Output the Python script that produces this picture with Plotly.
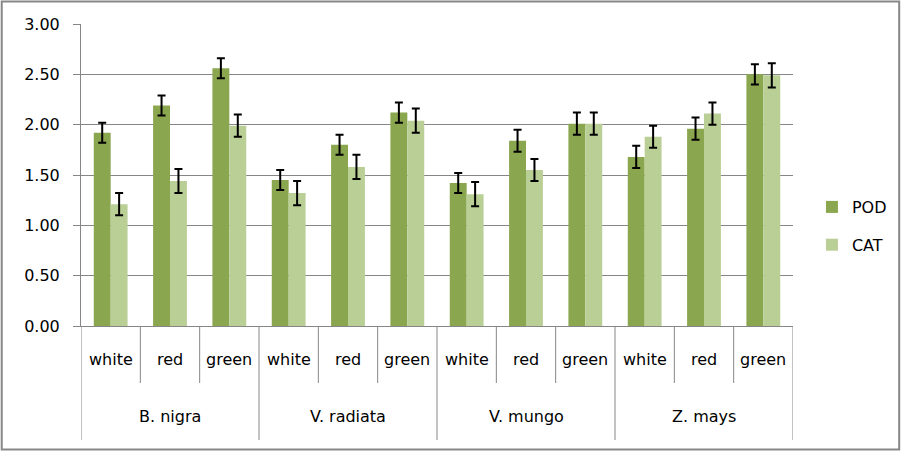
import plotly.graph_objects as go

species = ["B. nigra", "V. radiata", "V. mungo", "Z. mays"]
colors_lbl = ["white", "red", "green"]
pod = [1.92, 2.19, 2.56, 1.45, 1.80, 2.12, 1.42, 1.84, 2.01, 1.68, 1.96, 2.50]
pod_err = [0.10, 0.10, 0.10, 0.10, 0.10, 0.10, 0.10, 0.11, 0.11, 0.11, 0.11, 0.10]
cat = [1.21, 1.44, 1.99, 1.32, 1.58, 2.04, 1.31, 1.55, 2.01, 1.88, 2.11, 2.49]
cat_err = [0.11, 0.12, 0.11, 0.12, 0.12, 0.12, 0.12, 0.11, 0.11, 0.11, 0.11, 0.12]
y_ticks = [0, 0.5, 1.0, 1.5, 2.0, 2.5, 3.0]

W, H = 904, 451
L, R, T, B = 81, 109, 24, 125
PW, PH = W - L - R, H - T - B
AXC = "#868686"
FONT = "DejaVu Sans"
FS = 16

n = len(pod)
xs = list(range(n))

def py(pix):
    # pixel row -> paper y
    return (H - B - pix) / PH

def px(pix):
    return (pix - L) / PW

fig = go.Figure()
fig.add_trace(go.Bar(
    x=xs, y=pod, name="POD", marker=dict(color="#8AA64F", line=dict(width=0)),
    error_y=dict(type="data", array=pod_err, color="#000000", thickness=2, width=4),
    legendgroup="a",
))
fig.add_trace(go.Bar(
    x=xs, y=cat, name="CAT", marker=dict(color="#BACF96", line=dict(width=0)),
    error_y=dict(type="data", array=cat_err, color="#000000", thickness=2, width=4),
    legendgroup="b",
))

annotations = []
shapes = []
for i in xs:
    annotations.append(dict(x=i, y=py(359), xref="x", yref="paper", text=colors_lbl[i % 3],
                            showarrow=False, xanchor="center", yanchor="middle",
                            font=dict(family=FONT, size=FS, color="#000")))
for g, s in enumerate(species):
    annotations.append(dict(x=g * 3 + 1, y=py(417), xref="x", yref="paper", text=s,
                            showarrow=False, xanchor="center", yanchor="middle",
                            font=dict(family=FONT, size=FS, color="#000")))
for k in range(n + 1):
    b = k - 0.5
    bottom = 440 if k % 3 == 0 else 383
    shapes.append(dict(type="line", xref="x", yref="paper", x0=b, x1=b, y0=0, y1=py(bottom),
                       line=dict(color=AXC, width=1)))
# outer chart border
shapes.append(dict(type="rect", xref="paper", yref="paper",
                   x0=px(1.5), x1=px(901.5), y0=py(1.5), y1=py(449.5),
                   line=dict(color="#878787", width=2), fillcolor="rgba(0,0,0,0)", layer="below"))

fig.update_layout(
    width=W, height=H,
    margin=dict(l=L, r=R, t=T, b=B),
    paper_bgcolor="white", plot_bgcolor="white",
    barmode="group", bargap=0.43, bargroupgap=0,
    font=dict(family=FONT, size=FS, color="#000"),
    showlegend=True,
    legend=dict(x=px(814), y=py(190), xanchor="left", yanchor="top",
                font=dict(family=FONT, size=FS, color="#000"),
                traceorder="grouped", tracegroupgap=14, bgcolor="rgba(0,0,0,0)"),
    annotations=annotations, shapes=shapes,
)
fig.update_xaxes(range=[-0.5, n - 0.5], showgrid=False, zeroline=False, showticklabels=False,
                 showline=True, linecolor=AXC, linewidth=1, ticks="")
fig.update_yaxes(range=[0, 3], tickvals=y_ticks, tickformat=".2f", showgrid=True, gridcolor=AXC,
                 gridwidth=1, zeroline=False, showline=True, linecolor=AXC, linewidth=1,
                 ticks="outside", ticklen=7, tickcolor=AXC, ticklabelstandoff=10,
                 tickfont=dict(family=FONT, size=FS, color="#000"))
fig.write_html("out.html", config={"displayModeBar": False},
               post_script="document.body.style.margin='0';document.body.style.padding='0';")
